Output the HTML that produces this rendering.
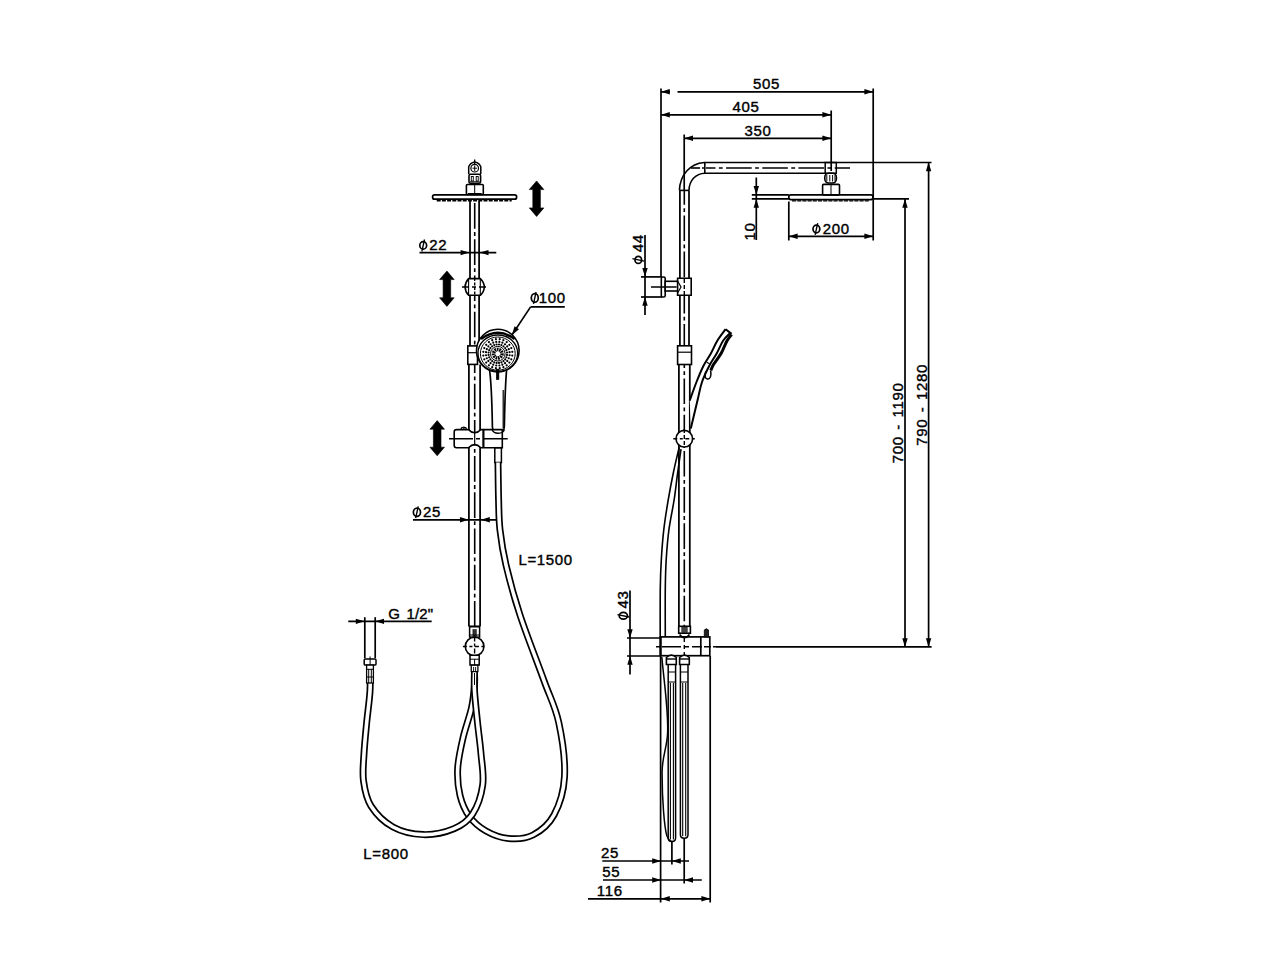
<!DOCTYPE html>
<html><head><meta charset="utf-8"><style>
html,body{margin:0;padding:0;background:#fff;}
svg{display:block;}
text{font-family:"Liberation Sans",sans-serif;fill:#000;}
</style></head><body>
<svg width="1280" height="960" viewBox="0 0 1280 960" stroke="#000" fill="none">
<rect x="0" y="0" width="1280" height="960" fill="#fff" stroke="none"/>
<line x1="474.7" y1="159.5" x2="474.7" y2="164" stroke-width="1.3" />
<path d="M468.7,174 L468.7,166.8 Q470,163 474.7,162 Q479.5,163 480.8,166.8 L480.8,174" stroke-width="1.5" fill="none" />
<circle cx="474.7" cy="168.2" r="3.8" stroke-width="1.2" fill="none" />
<line x1="474.7" y1="165.5" x2="474.7" y2="171" stroke-width="1.0" />
<line x1="472.5" y1="168.2" x2="477" y2="168.2" stroke-width="1.0" />
<rect x="469" y="174.3" width="11.6" height="9" rx="1.5" stroke-width="1.6" fill="none" />
<rect x="471.3" y="176.5" width="2" height="4.5" rx="0" stroke-width="0.9" fill="none" />
<rect x="476.2" y="176.5" width="2" height="4.5" rx="0" stroke-width="0.9" fill="none" />
<line x1="470" y1="181.8" x2="479.6" y2="181.8" stroke-width="1.0" />
<rect x="466.4" y="184.5" width="16.9" height="10" rx="1" stroke-width="1.6" fill="none" />
<line x1="474.7" y1="184.5" x2="474.7" y2="194.5" stroke-width="1.0" />
<line x1="468" y1="193.6" x2="481.6" y2="193.6" stroke-width="1.2" />
<rect x="432.6" y="194.8" width="84" height="4.4" rx="2" stroke-width="1.7" fill="none" />
<line x1="436.7" y1="200.7" x2="511.7" y2="200.7" stroke-width="1.5" stroke-dasharray="4 1.2"/>
<line x1="470" y1="201" x2="470" y2="346" stroke-width="1.75" />
<line x1="479.1" y1="201" x2="479.1" y2="346" stroke-width="1.75" />
<line x1="474.7" y1="201" x2="474.7" y2="346" stroke-width="1.6" stroke-dasharray="25.6 3.4 3.8 3.4" stroke-dashoffset="-2.1"/>
<line x1="419.5" y1="252.6" x2="496.3" y2="252.6" stroke-width="1.7" />
<polygon points="469.40,252.60 460.60,249.90 460.60,255.30" fill="#000" stroke="none"/>
<polygon points="479.70,252.60 488.50,249.90 488.50,255.30" fill="#000" stroke="none"/>
<ellipse cx="423.2" cy="245.4" rx="3.4" ry="3.7" stroke-width="1.7" fill="none"/>
<line x1="424.5" y1="239.5" x2="421.9" y2="251.3" stroke-width="1.35" />
<text x="429.35" y="250" font-size="15" stroke="#000" stroke-width="0.4" letter-spacing="0.65" word-spacing="1.8">22</text>
<path d="M468.6,278.6 L480.3,278.6 Q484.3,282.5 484.3,287 Q484.3,291.5 480.3,295.3 L468.6,295.3 Q465.1,291.5 465.1,287 Q465.1,282.5 468.6,278.6 Z" stroke-width="1.6" fill="#fff" />
<line x1="468.6" y1="278.6" x2="468.6" y2="295.3" stroke-width="1.1" />
<line x1="480.3" y1="278.6" x2="480.3" y2="295.3" stroke-width="1.1" />
<line x1="462" y1="287" x2="486.8" y2="287" stroke-width="1.5" stroke-dasharray="7 3 4 3 7"/>
<line x1="474.7" y1="278" x2="474.7" y2="296" stroke-width="1.4" stroke-dasharray="3 1.5"/>
<path d="M536.6,181 L543.9,189.6 L540.4,189.6 L540.4,207.9 L543.9,207.9 L536.6,216.5 L529.3000000000001,207.9 L532.8000000000001,207.9 L532.8000000000001,189.6 L529.3000000000001,189.6 Z" fill="#000" stroke="#000" stroke-width="0.6" stroke-linejoin="miter"/>
<path d="M446.9,271 L454.2,279.6 L450.7,279.6 L450.7,297.79999999999995 L454.2,297.79999999999995 L446.9,306.4 L439.59999999999997,297.79999999999995 L443.09999999999997,297.79999999999995 L443.09999999999997,279.6 L439.59999999999997,279.6 Z" fill="#000" stroke="#000" stroke-width="0.6" stroke-linejoin="miter"/>
<path d="M437.2,420.6 L444.5,429.20000000000005 L441.0,429.20000000000005 L441.0,447.2 L444.5,447.2 L437.2,455.8 L429.9,447.2 L433.4,447.2 L433.4,429.20000000000005 L429.9,429.20000000000005 Z" fill="#000" stroke="#000" stroke-width="0.6" stroke-linejoin="miter"/>
<rect x="467.8" y="345.9" width="9.7" height="18.5" rx="0" stroke-width="1.6" fill="none" />
<line x1="467.8" y1="352.7" x2="477.5" y2="352.7" stroke-width="1.2" />
<line x1="468.9" y1="364.4" x2="468.9" y2="626.3" stroke-width="1.75" />
<line x1="480.1" y1="364.4" x2="480.1" y2="430" stroke-width="1.75" />
<line x1="480.1" y1="446" x2="480.1" y2="626.3" stroke-width="1.75" />
<line x1="474.7" y1="364.4" x2="474.7" y2="626.3" stroke-width="1.6" stroke-dasharray="25.6 3.4 3.8 3.4" stroke-dashoffset="-19.3"/>
<path d="M489.3,368 C491.8,385 492.2,415 492.4,427 Q492.7,433 498.3,433 Q503.8,433 504.3,427 C504.8,410 505,385 506.8,368" stroke-width="1.7" fill="#fff" />
<line x1="503.2" y1="390" x2="503.2" y2="428" stroke-width="1.2" />
<circle cx="497.8" cy="350.6" r="21.3" stroke-width="1.6" fill="#fff" />
<ellipse cx="497.8" cy="353.2" rx="19.8" ry="18.2" stroke-width="1.3" fill="#fff"/>
<path d="M481,339 Q497.8,326.5 514.6,339" stroke-width="2.4" fill="none" />
<ellipse cx="497.8" cy="353.6" rx="17.4" ry="16.6" stroke-width="1.0" fill="none"/>
<g fill="#000" stroke="none"><circle cx="507.02" cy="354.91" r="1.1"/><circle cx="509.60" cy="355.25" r="1.1"/><circle cx="512.28" cy="355.61" r="1.1"/><circle cx="506.39" cy="357.26" r="1.1"/><circle cx="508.79" cy="358.25" r="1.1"/><circle cx="511.29" cy="359.29" r="1.1"/><circle cx="505.18" cy="359.36" r="1.1"/><circle cx="507.24" cy="360.94" r="1.1"/><circle cx="509.38" cy="362.59" r="1.1"/><circle cx="503.46" cy="361.08" r="1.1"/><circle cx="505.04" cy="363.14" r="1.1"/><circle cx="506.69" cy="365.28" r="1.1"/><circle cx="501.36" cy="362.29" r="1.1"/><circle cx="502.35" cy="364.69" r="1.1"/><circle cx="503.39" cy="367.19" r="1.1"/><circle cx="499.01" cy="362.92" r="1.1"/><circle cx="499.35" cy="365.50" r="1.1"/><circle cx="499.71" cy="368.18" r="1.1"/><circle cx="496.59" cy="362.92" r="1.1"/><circle cx="496.25" cy="365.50" r="1.1"/><circle cx="495.89" cy="368.18" r="1.1"/><circle cx="494.24" cy="362.29" r="1.1"/><circle cx="493.25" cy="364.69" r="1.1"/><circle cx="492.21" cy="367.19" r="1.1"/><circle cx="492.14" cy="361.08" r="1.1"/><circle cx="490.56" cy="363.14" r="1.1"/><circle cx="488.91" cy="365.28" r="1.1"/><circle cx="490.42" cy="359.36" r="1.1"/><circle cx="488.36" cy="360.94" r="1.1"/><circle cx="486.22" cy="362.59" r="1.1"/><circle cx="489.21" cy="357.26" r="1.1"/><circle cx="486.81" cy="358.25" r="1.1"/><circle cx="484.31" cy="359.29" r="1.1"/><circle cx="488.58" cy="354.91" r="1.1"/><circle cx="486.00" cy="355.25" r="1.1"/><circle cx="483.32" cy="355.61" r="1.1"/><circle cx="488.58" cy="352.49" r="1.1"/><circle cx="486.00" cy="352.15" r="1.1"/><circle cx="483.32" cy="351.79" r="1.1"/><circle cx="489.21" cy="350.14" r="1.1"/><circle cx="486.81" cy="349.15" r="1.1"/><circle cx="484.31" cy="348.11" r="1.1"/><circle cx="490.42" cy="348.04" r="1.1"/><circle cx="488.36" cy="346.46" r="1.1"/><circle cx="486.22" cy="344.81" r="1.1"/><circle cx="492.14" cy="346.32" r="1.1"/><circle cx="490.56" cy="344.26" r="1.1"/><circle cx="488.91" cy="342.12" r="1.1"/><circle cx="494.24" cy="345.11" r="1.1"/><circle cx="493.25" cy="342.71" r="1.1"/><circle cx="492.21" cy="340.21" r="1.1"/><circle cx="496.59" cy="344.48" r="1.1"/><circle cx="496.25" cy="341.90" r="1.1"/><circle cx="495.89" cy="339.22" r="1.1"/><circle cx="499.01" cy="344.48" r="1.1"/><circle cx="499.35" cy="341.90" r="1.1"/><circle cx="499.71" cy="339.22" r="1.1"/><circle cx="501.36" cy="345.11" r="1.1"/><circle cx="502.35" cy="342.71" r="1.1"/><circle cx="503.39" cy="340.21" r="1.1"/><circle cx="503.46" cy="346.32" r="1.1"/><circle cx="505.04" cy="344.26" r="1.1"/><circle cx="506.69" cy="342.12" r="1.1"/><circle cx="505.18" cy="348.04" r="1.1"/><circle cx="507.24" cy="346.46" r="1.1"/><circle cx="509.38" cy="344.81" r="1.1"/><circle cx="506.39" cy="350.14" r="1.1"/><circle cx="508.79" cy="349.15" r="1.1"/><circle cx="511.29" cy="348.11" r="1.1"/><circle cx="507.02" cy="352.49" r="1.1"/><circle cx="509.60" cy="352.15" r="1.1"/><circle cx="512.28" cy="351.79" r="1.1"/></g>
<circle cx="497.8" cy="353.7" r="7.3" stroke-width="1.0" fill="#fff" />
<circle cx="497.8" cy="353.7" r="4.2" stroke-width="3.6" fill="none" stroke-dasharray="1.6 0.7"/>
<rect x="496.3" y="369.2" width="2.6" height="10.4" rx="0" stroke-width="0.6" fill="#000" />
<line x1="511.9" y1="335" x2="530.6" y2="306.9" stroke-width="1.7" />
<line x1="530.6" y1="306.9" x2="564.8" y2="306.9" stroke-width="1.7" />
<polygon points="511.90,335.00 519.02,329.17 514.53,326.18" fill="#000" stroke="none"/>
<ellipse cx="534.78" cy="297.9" rx="3.48" ry="4.3" stroke-width="1.7" fill="none"/>
<line x1="536.08" y1="292" x2="533.48" y2="303.8" stroke-width="1.35" />
<text x="538.83" y="303.15" font-size="15" stroke="#000" stroke-width="0.4" letter-spacing="0.65" word-spacing="1.8">100</text>
<path d="M456.5,429.6 L468.5,429.6 Q474.7,436 480.8,429.6 L502.3,429.6 L502.3,447.7 L480.8,447.7 Q474.7,441.5 468.5,447.7 L456.5,447.7 Q454.2,447.7 454.2,445.5 L454.2,431.8 Q454.2,429.6 456.5,429.6 Z" stroke-width="1.6" fill="#fff" />
<line x1="483.4" y1="429.6" x2="483.4" y2="447.7" stroke-width="2.2" />
<line x1="449" y1="438.8" x2="507.7" y2="438.8" stroke-width="1.6" stroke-dasharray="24 3 4 3 100"/>
<path d="M461,428.5 Q463.7,425.6 466.5,428.5" stroke-width="1.2" fill="none" />
<circle cx="462.3" cy="428.6" r="1.1" stroke-width="0.9" fill="none" />
<circle cx="465.2" cy="428.6" r="1.1" stroke-width="0.9" fill="none" />
<path d="M492.2,429.6 Q493,433.2 498.2,433.2 Q503.4,433.2 504.3,429.6" stroke-width="1.4" fill="none" />
<line x1="474.7" y1="432" x2="474.7" y2="445" stroke-width="1.2" />
<rect x="494.8" y="447.7" width="6.6" height="14.8" rx="0" stroke-width="1.5" fill="none" />
<line x1="413" y1="519.8" x2="497" y2="519.8" stroke-width="1.7" />
<polygon points="468.75,519.80 459.95,517.10 459.95,522.50" fill="#000" stroke="none"/>
<polygon points="481.00,519.80 489.80,517.10 489.80,522.50" fill="#000" stroke="none"/>
<ellipse cx="416.95" cy="512.25" rx="3.55" ry="4.15" stroke-width="1.7" fill="none"/>
<line x1="418.25" y1="506.35" x2="415.65" y2="518.15" stroke-width="1.35" />
<text x="423.1" y="517.15" font-size="15" stroke="#000" stroke-width="0.4" letter-spacing="0.65" word-spacing="1.8">25</text>
<text x="518.43" y="565.3" font-size="15" stroke="#000" stroke-width="0.4" letter-spacing="0.65" word-spacing="1.8">L=1500</text>
<line x1="468.75" y1="626.3" x2="480.1" y2="626.3" stroke-width="1.6" />
<rect x="469.6" y="626.7" width="10" height="10.4" rx="0" stroke-width="1.5" fill="none" />
<rect x="472.9" y="629.6" width="3.4" height="7.1" rx="0" stroke-width="0.5" fill="#333" />
<line x1="469.6" y1="635" x2="479.6" y2="635" stroke-width="1.0" />
<line x1="348.3" y1="621.35" x2="431.7" y2="621.35" stroke-width="1.7" />
<line x1="364.8" y1="617.2" x2="364.8" y2="658.3" stroke-width="1.7" />
<line x1="375.2" y1="617.2" x2="375.2" y2="658.3" stroke-width="1.7" />
<polygon points="364.60,621.35 355.80,618.65 355.80,624.05" fill="#000" stroke="none"/>
<polygon points="375.20,621.35 384.00,618.65 384.00,624.05" fill="#000" stroke="none"/>
<text x="388.35" y="619.2" font-size="15" stroke="#000" stroke-width="0.4"  word-spacing="1.8" letter-spacing="0.2">G 1/2&quot;</text>
<path d="M498,462.5 C498.1,468.75 498.27,488.75 498.6,500 C498.93,511.25 498.77,519.17 500,530 C501.23,540.83 502.67,550.83 506,565 C509.33,579.17 513.71,595.83 520,615 C526.29,634.17 537.29,662.08 543.75,680 C550.21,697.92 555.29,706.38 558.75,722.5 C562.21,738.62 565.29,761.28 564.5,776.7 C563.71,792.12 559.25,805.28 554,815 C548.75,824.72 540.58,831.08 533,835 C525.42,838.92 516.33,839.17 508.5,838.5 C500.67,837.83 492.55,834.71 486,831 C479.45,827.29 473.53,822.18 469.2,816.25 C464.87,810.32 461.92,803.39 460,795.4 C458.08,787.41 457.2,777.87 457.7,768.3 C458.2,758.73 460.7,748.05 463,738 C465.3,727.95 469.6,716.67 471.5,708 C473.4,699.33 473.9,692 474.4,686 C474.9,680 474.48,674.33 474.5,672" fill="none" stroke="#000" stroke-width="7.0"/>
<path d="M498,462.5 C498.1,468.75 498.27,488.75 498.6,500 C498.93,511.25 498.77,519.17 500,530 C501.23,540.83 502.67,550.83 506,565 C509.33,579.17 513.71,595.83 520,615 C526.29,634.17 537.29,662.08 543.75,680 C550.21,697.92 555.29,706.38 558.75,722.5 C562.21,738.62 565.29,761.28 564.5,776.7 C563.71,792.12 559.25,805.28 554,815 C548.75,824.72 540.58,831.08 533,835 C525.42,838.92 516.33,839.17 508.5,838.5 C500.67,837.83 492.55,834.71 486,831 C479.45,827.29 473.53,822.18 469.2,816.25 C464.87,810.32 461.92,803.39 460,795.4 C458.08,787.41 457.2,777.87 457.7,768.3 C458.2,758.73 460.7,748.05 463,738 C465.3,727.95 469.6,716.67 471.5,708 C473.4,699.33 473.9,692 474.4,686 C474.9,680 474.48,674.33 474.5,672" fill="none" stroke="#fff" stroke-width="3.6"/>
<path d="M370,665 C370,669.33 370.55,681.42 370,691 C369.45,700.58 367.7,712.04 366.7,722.5 C365.7,732.96 364.53,744.03 364,753.75 C363.47,763.47 362.33,772.09 363.5,780.8 C364.67,789.51 366.08,798.3 371,806 C375.92,813.7 384.28,822.23 393,827 C401.72,831.77 413.13,834.32 423.3,834.6 C433.47,834.88 445.78,832.13 454,828.7 C462.22,825.27 467.82,821.28 472.6,814 C477.38,806.72 481.3,795.04 482.7,785 C484.1,774.96 481.87,764.17 481,753.75 C480.13,743.33 478.58,732.96 477.5,722.5 C476.42,712.04 475,699.42 474.5,691 C474,682.58 474.5,675.17 474.5,672" fill="none" stroke="#000" stroke-width="7.0"/>
<path d="M370,665 C370,669.33 370.55,681.42 370,691 C369.45,700.58 367.7,712.04 366.7,722.5 C365.7,732.96 364.53,744.03 364,753.75 C363.47,763.47 362.33,772.09 363.5,780.8 C364.67,789.51 366.08,798.3 371,806 C375.92,813.7 384.28,822.23 393,827 C401.72,831.77 413.13,834.32 423.3,834.6 C433.47,834.88 445.78,832.13 454,828.7 C462.22,825.27 467.82,821.28 472.6,814 C477.38,806.72 481.3,795.04 482.7,785 C484.1,774.96 481.87,764.17 481,753.75 C480.13,743.33 478.58,732.96 477.5,722.5 C476.42,712.04 475,699.42 474.5,691 C474,682.58 474.5,675.17 474.5,672" fill="none" stroke="#fff" stroke-width="3.6"/>
<rect x="364.2" y="658.9" width="11.8" height="6.2" rx="1.2" stroke-width="1.5" fill="#fff" />
<line x1="370.1" y1="656.5" x2="370.1" y2="665" stroke-width="1.0" />
<rect x="366.6" y="665.1" width="6.8" height="17.9" rx="0" stroke-width="1.3" fill="#fff" />
<line x1="368.7" y1="669" x2="368.7" y2="683" stroke-width="1.0" />
<line x1="371.3" y1="669" x2="371.3" y2="683" stroke-width="1.0" />
<line x1="366.6" y1="669.3" x2="373.4" y2="669.3" stroke-width="1.0" />
<line x1="366.6" y1="677" x2="373.4" y2="677" stroke-width="1.0" />
<circle cx="474.6" cy="646.5" r="9.3" stroke-width="1.6" fill="#fff" />
<line x1="462.9" y1="646.5" x2="485.8" y2="646.5" stroke-width="1.5" stroke-dasharray="4 2.5 3 2.5 4 2.5 3"/>
<line x1="474.6" y1="636.5" x2="474.6" y2="656" stroke-width="1.4" stroke-dasharray="5 2 3 2"/>
<rect x="470" y="655.3" width="9.2" height="9.7" rx="0" stroke-width="1.5" fill="#fff" />
<line x1="470" y1="659.2" x2="479.2" y2="659.2" stroke-width="1.0" />
<line x1="474.6" y1="659.2" x2="474.6" y2="665" stroke-width="1.0" />
<rect x="471.25" y="665.2" width="6.65" height="6.4" rx="0" stroke-width="1.3" fill="#fff" />
<line x1="473.6" y1="667" x2="473.6" y2="671" stroke-width="0.9" />
<line x1="475.6" y1="667" x2="475.6" y2="671" stroke-width="0.9" />
<line x1="474.5" y1="673" x2="474.5" y2="685" stroke-width="1.0" />
<line x1="661" y1="88.5" x2="661" y2="277" stroke-width="1.7" />
<line x1="660.6" y1="656" x2="660.6" y2="902.5" stroke-width="1.7" />
<line x1="873.2" y1="88.5" x2="873.2" y2="240.5" stroke-width="1.7" />
<line x1="831.2" y1="110.5" x2="831.2" y2="171" stroke-width="1.7" />
<line x1="684.2" y1="134.5" x2="684.2" y2="190" stroke-width="1.7" />
<line x1="661" y1="91.8" x2="873.2" y2="91.8" stroke-width="1.7" />
<polygon points="661.00,91.80 669.80,89.10 669.80,94.50" fill="#000" stroke="none"/>
<polygon points="873.20,91.80 864.40,89.10 864.40,94.50" fill="#000" stroke="none"/>
<rect x="670" y="89" width="7.5" height="6" fill="#fff" stroke="none"/>
<text x="753" y="89.4" font-size="15" stroke="#000" stroke-width="0.4" letter-spacing="0.65" word-spacing="1.8">505</text>
<line x1="661" y1="114.8" x2="831.2" y2="114.8" stroke-width="1.7" />
<polygon points="661.00,114.80 669.80,112.10 669.80,117.50" fill="#000" stroke="none"/>
<polygon points="831.20,114.80 822.40,112.10 822.40,117.50" fill="#000" stroke="none"/>
<text x="732.58" y="112.3" font-size="15" stroke="#000" stroke-width="0.4" letter-spacing="0.65" word-spacing="1.8">405</text>
<line x1="684.2" y1="138.3" x2="831.2" y2="138.3" stroke-width="1.7" />
<polygon points="684.20,138.30 693.00,135.60 693.00,141.00" fill="#000" stroke="none"/>
<polygon points="831.20,138.30 822.40,135.60 822.40,141.00" fill="#000" stroke="none"/>
<text x="744.47" y="136.1" font-size="15" stroke="#000" stroke-width="0.4" letter-spacing="0.65" word-spacing="1.8">350</text>
<path d="M836.3,162.5 L704.3,162.5 C690,163.5 680,175 679.4,190.4" stroke-width="1.6" fill="none" />
<path d="M825.2,173.2 L704.8,173.2 C696,173.5 689.2,180 689.0,190.4" stroke-width="1.6" fill="none" />
<line x1="704.8" y1="162.5" x2="704.8" y2="173.2" stroke-width="1.6" />
<line x1="679.4" y1="190.4" x2="689" y2="190.4" stroke-width="1.6" />
<line x1="706" y1="168" x2="850" y2="168" stroke-width="1.6" stroke-dasharray="9.5 3.4 3.8 3.4 25.6 3.4 3.8 3.4 25.6 3.4 3.8 3.4 25.6 3.4 3.8 3.4 25.6 3.4"/>
<line x1="691" y1="168" x2="700" y2="168" stroke-width="1.6" />
<line x1="702" y1="168" x2="704" y2="168" stroke-width="1.4" />
<rect x="825.2" y="162.5" width="11.1" height="10.7" rx="0" stroke-width="1.5" fill="none" />
<line x1="836.3" y1="162.5" x2="931.5" y2="162.5" stroke-width="1.7" />
<rect x="824.8" y="173.2" width="11.6" height="9.8" rx="4" stroke-width="1.6" fill="#fff" />
<line x1="826.8" y1="175" x2="826.8" y2="181.5" stroke-width="1.0" />
<line x1="829.8" y1="175" x2="829.8" y2="181.5" stroke-width="1.0" />
<line x1="832.6" y1="175" x2="832.6" y2="181.5" stroke-width="1.0" />
<line x1="835" y1="175" x2="835" y2="181.5" stroke-width="1.0" />
<rect x="822.6" y="184.4" width="16.9" height="10.6" rx="1" stroke-width="1.6" fill="none" />
<line x1="831" y1="184.4" x2="831" y2="195" stroke-width="1.0" />
<rect x="788.8" y="194.9" width="84.2" height="4.7" rx="2" stroke-width="1.7" fill="none" />
<line x1="792" y1="200.9" x2="870" y2="200.9" stroke-width="1.4" stroke-dasharray="4 1.2"/>
<line x1="873" y1="198.9" x2="909" y2="198.9" stroke-width="1.7" />
<line x1="751.8" y1="194.9" x2="788.8" y2="194.9" stroke-width="1.7" />
<line x1="751.8" y1="198.9" x2="788.8" y2="198.9" stroke-width="1.7" />
<line x1="756.3" y1="177.5" x2="756.3" y2="240" stroke-width="1.7" />
<polygon points="756.30,194.90 753.60,186.10 759.00,186.10" fill="#000" stroke="none"/>
<polygon points="756.30,198.90 753.60,207.70 759.00,207.70" fill="#000" stroke="none"/>
<text x="0" y="0" transform="translate(754.7,240.4) rotate(-90)" font-size="15" stroke="#000" stroke-width="0.4" letter-spacing="0.65" word-spacing="1.8">10</text>
<line x1="788.8" y1="201.5" x2="788.8" y2="240.5" stroke-width="1.7" />
<line x1="788.8" y1="236.3" x2="873.2" y2="236.3" stroke-width="1.7" />
<polygon points="788.80,236.30 797.60,233.60 797.60,239.00" fill="#000" stroke="none"/>
<polygon points="873.20,236.30 864.40,233.60 864.40,239.00" fill="#000" stroke="none"/>
<ellipse cx="816.4" cy="228.95" rx="3.4" ry="3.85" stroke-width="1.7" fill="none"/>
<line x1="817.7" y1="223.05" x2="815.1" y2="234.85" stroke-width="1.35" />
<text x="822.67" y="234.2" font-size="15" stroke="#000" stroke-width="0.4" letter-spacing="0.65" word-spacing="1.8">200</text>
<line x1="905" y1="198.9" x2="905" y2="646.8" stroke-width="1.7" />
<polygon points="905.00,198.90 902.30,207.70 907.70,207.70" fill="#000" stroke="none"/>
<polygon points="905.00,647.00 902.30,638.20 907.70,638.20" fill="#000" stroke="none"/>
<line x1="928.6" y1="162.5" x2="928.6" y2="646.8" stroke-width="1.7" />
<polygon points="928.60,162.50 925.90,171.30 931.30,171.30" fill="#000" stroke="none"/>
<polygon points="928.60,647.00 925.90,638.20 931.30,638.20" fill="#000" stroke="none"/>
<text x="0" y="0" transform="translate(903,463.25) rotate(-90)" font-size="15" stroke="#000" stroke-width="0.4" letter-spacing="0.65" word-spacing="1.8">700 - 1190</text>
<text x="0" y="0" transform="translate(927,445.75) rotate(-90)" font-size="15" stroke="#000" stroke-width="0.4" letter-spacing="0.65" word-spacing="1.8">790 - 1280</text>
<line x1="679.9" y1="190.4" x2="679.9" y2="345.8" stroke-width="1.75" />
<line x1="689" y1="190.4" x2="689" y2="345.8" stroke-width="1.75" />
<line x1="684.3" y1="190.4" x2="684.3" y2="345.8" stroke-width="1.6" stroke-dasharray="25.6 3.4 3.8 3.4" stroke-dashoffset="-25"/>
<line x1="645" y1="235" x2="645" y2="315" stroke-width="1.7" />
<polygon points="645.00,276.90 642.30,268.10 647.70,268.10" fill="#000" stroke="none"/>
<polygon points="645.00,297.00 642.30,305.80 647.70,305.80" fill="#000" stroke="none"/>
<line x1="641" y1="276.9" x2="662" y2="276.9" stroke-width="1.7" />
<line x1="641" y1="297" x2="662" y2="297" stroke-width="1.7" />
<ellipse cx="638.3" cy="259.9" rx="3.3" ry="3.5" stroke-width="1.7" fill="none"/>
<line x1="632.4" y1="258.7" x2="644.2" y2="261.1" stroke-width="1.35" />
<text x="0" y="0" transform="translate(643.4,252.25) rotate(-90)" font-size="15" stroke="#000" stroke-width="0.4" letter-spacing="0.65" word-spacing="1.8">44</text>
<rect x="661.3" y="277" width="3.9" height="20" rx="1.5" stroke-width="1.6" fill="#fff" />
<rect x="665.2" y="281.3" width="12.8" height="9.7" rx="0" stroke-width="1.6" fill="#fff" />
<line x1="651" y1="287" x2="684" y2="287" stroke-width="1.6" stroke-dasharray="25.6 3.4 3.8 3.4" stroke-dashoffset="0"/>
<path d="M677.6,278.2 L691.2,278.2 L691.2,295.2 L677.6,295.2 Z" stroke-width="1.6" fill="#fff" />
<path d="M677.6,281 L681,287 L677.6,293" stroke-width="1.2" fill="none" />
<line x1="684.3" y1="279" x2="684.3" y2="295" stroke-width="1.4" stroke-dasharray="4 2"/>
<rect x="677.6" y="345.8" width="13.9" height="18.7" rx="0" stroke-width="1.6" fill="#fff" />
<line x1="677.6" y1="352.2" x2="691.5" y2="352.2" stroke-width="1.2" />
<line x1="678.9" y1="364.5" x2="678.9" y2="627" stroke-width="1.75" />
<line x1="689.8" y1="364.5" x2="689.8" y2="627" stroke-width="1.75" />
<line x1="684.3" y1="364.5" x2="684.3" y2="627" stroke-width="1.6" stroke-dasharray="25.6 3.4 3.8 3.4" stroke-dashoffset="-14"/>
<path d="M689.7,400.6 L696.5,382 L703.5,365.75 L711,353.25 L717.3,340.75 L725.6,329.2 L731.6,333.9 L726.9,341 L721.2,353.25 L712,365.75 L705.5,378 L702,382 L697.6,400 L690.8,428.5 Z" stroke-width="0" fill="#fff" stroke="none"/>
<path d="M689.7,400.6 C690.83,397.5 694.2,387.81 696.5,382 C698.8,376.19 701.08,370.54 703.5,365.75 C705.92,360.96 708.7,357.42 711,353.25 C713.3,349.08 714.87,344.76 717.3,340.75 C719.73,336.74 724.22,331.12 725.6,329.2" fill="none" stroke="#000" stroke-width="2.0" stroke-linejoin="round"/>
<path d="M690.8,428.5 C691.93,423.75 695.73,407.75 697.6,400 C699.47,392.25 700.05,387.71 702,382 C703.95,376.29 706.83,370.54 709.3,365.75 C711.77,360.96 714.5,357.42 716.8,353.25 C719.1,349.08 720.9,344.08 723.1,340.75 C725.3,337.42 728.85,334.5 730,333.25" fill="none" stroke="#000" stroke-width="2.0" stroke-linejoin="round"/>
<path d="M725.6,329.2 L731.6,333.9" stroke-width="2.0" fill="none" />
<path d="M731.6,334.5 C730.82,335.58 728.63,337.88 726.9,341 C725.17,344.12 723.43,349.33 721.2,353.25 C718.97,357.17 715.23,361.62 713.5,364.5 C711.77,367.38 711.25,369.5 710.8,370.5" stroke-width="3.0" fill="none" />
<path d="M710.6,370.5 C711.5,375 710.5,379.5 707.5,379 C704.5,378.5 704.5,374 706,371.5" stroke-width="1.5" fill="none" />
<line x1="706.6" y1="362.2" x2="709.6" y2="363.8" stroke-width="1.2" />
<circle cx="684.3" cy="438.7" r="8.3" stroke-width="1.6" fill="#fff" />
<line x1="673.3" y1="438.7" x2="695.6" y2="438.7" stroke-width="1.5" stroke-dasharray="4 2.5 3 2.5 4 2.5 3"/>
<line x1="684.3" y1="429" x2="684.3" y2="448" stroke-width="1.4" stroke-dasharray="4 2"/>
<path d="M679.2,447.2 C678.25,451.33 675.33,463.2 673.5,472 C671.67,480.8 669.81,490.47 668.2,500 C666.59,509.53 664.98,519.48 663.85,529.2 C662.72,538.92 661.99,548.58 661.4,558.3 C660.81,568.02 660.5,574.28 660.3,587.5 C660.1,600.72 660.22,629.25 660.2,637.6" stroke-width="1.6" fill="none" />
<path d="M681,449.2 C680.42,453.33 678.65,465.53 677.5,474 C676.35,482.47 675.52,490.8 674.1,500 C672.68,509.2 670.3,519.48 669,529.2 C667.7,538.92 666.92,548.58 666.3,558.3 C665.68,568.02 665.47,574.28 665.3,587.5 C665.13,600.72 665.3,629.25 665.3,637.6" stroke-width="1.6" fill="none" />
<path d="M661.8,657 C665,690 668.5,712 667.6,733 C667,748 662.2,756 662.1,772 C662,800 664.5,828 666.8,835.5 Q668.8,841 671.6,841.6" stroke-width="1.5" fill="none" />
<line x1="630" y1="590.6" x2="630" y2="674.4" stroke-width="1.7" />
<polygon points="630.00,638.00 627.30,629.20 632.70,629.20" fill="#000" stroke="none"/>
<polygon points="630.00,656.00 627.30,664.80 632.70,664.80" fill="#000" stroke="none"/>
<line x1="627" y1="638" x2="660" y2="638" stroke-width="1.7" />
<line x1="627" y1="656" x2="660" y2="656" stroke-width="1.7" />
<ellipse cx="623.35" cy="615.83" rx="4.15" ry="3.37" stroke-width="1.7" fill="none"/>
<line x1="617.45" y1="614.62" x2="629.25" y2="617.03" stroke-width="1.35" />
<text x="0" y="0" transform="translate(628.4,608.5) rotate(-90)" font-size="15" stroke="#000" stroke-width="0.4" letter-spacing="0.65" word-spacing="1.8">43</text>
<rect x="660.4" y="636.9" width="49.4" height="18.8" rx="0" stroke-width="1.7" fill="#fff" />
<line x1="660.6" y1="636.9" x2="660.6" y2="655.7" stroke-width="2.2" />
<line x1="700.8" y1="636.9" x2="700.8" y2="655.7" stroke-width="1.7" />
<path d="M704.3,637 L704.3,630 Q706.4,627.6 708.5,630 L708.5,637 Z" stroke-width="0.8" fill="#222" />
<line x1="656" y1="646.8" x2="716" y2="646.8" stroke-width="1.6" stroke-dasharray="4 2 19 3 5 3 10 2 7 2 8 2"/>
<line x1="716" y1="646.8" x2="931.6" y2="646.8" stroke-width="1.7" />
<rect x="678.7" y="626.3" width="11.7" height="6.9" rx="0" stroke-width="1.6" fill="#fff" />
<rect x="681.8" y="627.3" width="5.4" height="5.1" rx="0" stroke-width="0.5" fill="#444" />
<path d="M679.6,634.5 Q684.5,641 689.5,634.5" stroke-width="1.6" fill="none" />
<line x1="684.3" y1="638" x2="684.3" y2="656" stroke-width="1.4" stroke-dasharray="4 3"/>
<path d="M666.4,664.5 L666.4,657.5 Q671.3499999999999,652.8 676.3,657.5 L676.3,664.5 Z" stroke-width="1.6" fill="#fff" />
<line x1="666.4" y1="659" x2="676.3" y2="659" stroke-width="1.4" />
<path d="M668.2,665 L668.2,838.1 Q668.2,841.6 671.9000000000001,841.6 Q675.6,841.6 675.6,838.1 L675.6,665" stroke-width="1.5" fill="none" />
<line x1="670.4" y1="683" x2="670.4" y2="839.6" stroke-width="1.1" />
<line x1="673.4" y1="683" x2="673.4" y2="839.6" stroke-width="1.1" />
<line x1="668.2" y1="672" x2="675.6" y2="672" stroke-width="1.0" />
<line x1="668.2" y1="682" x2="675.6" y2="682" stroke-width="1.0" />
<path d="M679.6,664.5 L679.6,657.5 Q684.45,652.8 689.3,657.5 L689.3,664.5 Z" stroke-width="1.6" fill="#fff" />
<line x1="679.6" y1="659" x2="689.3" y2="659" stroke-width="1.4" />
<path d="M680.4,665 L680.4,834.8 Q680.4,838.3 684.2,838.3 Q688,838.3 688,834.8 L688,665" stroke-width="1.5" fill="none" />
<line x1="682.7" y1="683" x2="682.7" y2="836.3" stroke-width="1.1" />
<line x1="685.7" y1="683" x2="685.7" y2="836.3" stroke-width="1.1" />
<line x1="680.4" y1="672" x2="688" y2="672" stroke-width="1.0" />
<line x1="680.4" y1="682" x2="688" y2="682" stroke-width="1.0" />
<line x1="710.2" y1="656" x2="710.2" y2="902.5" stroke-width="1.7" />
<line x1="671.9" y1="841.8" x2="671.9" y2="864.6" stroke-width="1.7" />
<line x1="684.2" y1="838.3" x2="684.2" y2="883.5" stroke-width="1.7" />
<line x1="602.3" y1="861" x2="689" y2="861" stroke-width="1.7" />
<polygon points="661.00,861.00 652.20,858.30 652.20,863.70" fill="#000" stroke="none"/>
<polygon points="672.00,861.00 680.80,858.30 680.80,863.70" fill="#000" stroke="none"/>
<text x="601.1" y="857.9" font-size="15" stroke="#000" stroke-width="0.4" letter-spacing="0.65" word-spacing="1.8">25</text>
<line x1="603" y1="880" x2="701.8" y2="880" stroke-width="1.7" />
<polygon points="661.00,880.00 652.20,877.30 652.20,882.70" fill="#000" stroke="none"/>
<polygon points="684.20,880.00 693.00,877.30 693.00,882.70" fill="#000" stroke="none"/>
<text x="602.15" y="876.9" font-size="15" stroke="#000" stroke-width="0.4" letter-spacing="0.65" word-spacing="1.8">55</text>
<line x1="588" y1="898.8" x2="710.2" y2="898.8" stroke-width="1.7" />
<polygon points="661.00,898.80 669.80,896.10 669.80,901.50" fill="#000" stroke="none"/>
<polygon points="710.20,898.80 701.40,896.10 701.40,901.50" fill="#000" stroke="none"/>
<text x="596.8" y="896.4" font-size="15" stroke="#000" stroke-width="0.4" letter-spacing="0.65" word-spacing="1.8">116</text>
<text x="363.25" y="859.4" font-size="15" stroke="#000" stroke-width="0.4" letter-spacing="0.65" word-spacing="1.8">L=800</text>
</svg></body></html>
